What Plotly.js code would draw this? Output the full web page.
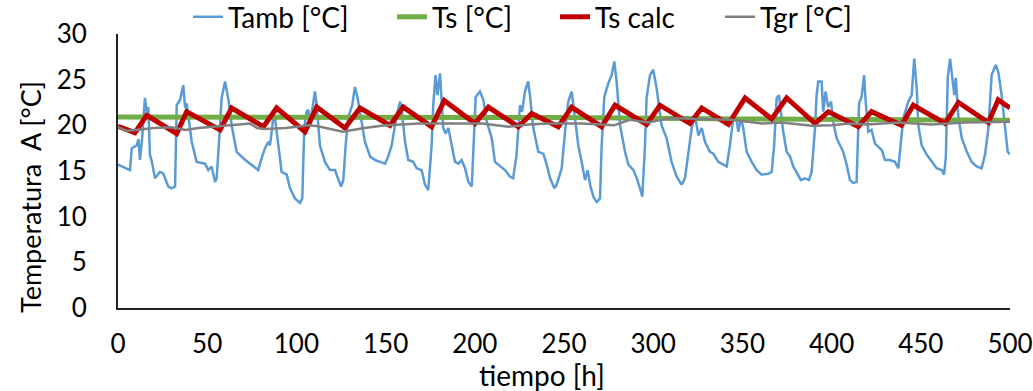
<!DOCTYPE html>
<html>
<head>
<meta charset="utf-8">
<script src="https://cdn.plot.ly/plotly-3.0.1.min.js"></script>
<style>html,body{margin:0;padding:0;background:#fff;}#chart{width:1033px;height:391px;}</style>
</head>
<body>
<div id="chart"></div>
<script>
// ---- data ----
const seriesNames = ["Tamb [°C]", "Ts [°C]", "Ts calc", "Tgr [°C]"];

const tambHours = [0,3,6.7,7.7,9,10.5,11.5,12.3,13.5,15.1,16.1,17,17.9,19,20.7,23.5,25.4,28.2,30.1,32,32.9,34.8,36.6,37.6,38.5,41.3,44.1,48.8,50.6,52.5,54.4,55.3,57.2,58.1,60,61.9,63.7,66.5,70.2,74,78.6,80.5,82.4,84.3,85.2,87.1,88,89.9,91.7,94.6,96.4,99.2,102,103.3,104.4,105.7,106.7,107.6,109.5,110.4,111.3,113.2,116,118.8,121.6,123.5,125,126.3,127.6,129.1,131.3,132.8,134.3,135.6,138.4,141.3,144.1,146.9,149.7,151.5,153.4,156.2,158.1,159,160.9,162.7,165.5,167.4,170.2,172.1,173.9,175.8,176.7,178,179.1,180.5,181.4,182.3,183.6,185.2,187.1,188.9,190.8,192.6,194.5,196.4,198.3,199.7,200.5,202.9,204.8,206.7,209.5,211.3,214.1,216.9,219.7,221.5,223.4,225.3,226.5,228.1,229.9,230.9,232.8,235.6,238.4,240.3,242.2,244.6,245.9,248.7,250.6,252.4,254.3,256.2,258,259.9,261.8,263.3,264.6,266.4,268.3,270.2,271.1,272.6,274.8,276.7,278.2,279.5,281.4,284.2,286.1,288.9,290.8,292.6,293.9,295.4,296.3,298.2,300,301.9,304.7,307.5,310.3,313.1,315.9,317.8,319.7,321.6,323.4,325.3,327.2,329,331.8,333.7,336.5,339.3,341.2,343,344.9,346.8,347.7,349.2,350.5,352.4,355.2,358,360.8,364.5,366.4,367.8,369.2,370.5,371.6,372.9,374.8,376.7,378.5,380.4,382.8,385.1,387.3,388.8,390.7,391.6,392.5,394.4,395.3,396.6,398.1,399.7,400.9,402.8,404.7,406.5,408.4,410.3,412.1,414,415.4,416.8,418.2,419.1,420.6,422.4,424.3,426.2,428.1,429.9,432.7,435.5,437.4,438.3,440.2,443,444.9,446.3,447.7,448.6,450.5,453.3,456.1,458.9,461.7,463,464,465.1,466.4,467.7,468.8,469.6,471.1,473,475.8,478.5,481.3,484.1,486,487.9,489.7,492,493.4,495.3,497.2,498.7,500];
const tambValues = [15.7,15.4,15.1,17.5,17.6,17.8,18.5,16.2,18.5,23.0,21.5,22.0,16.8,16.0,14.2,14.9,14.7,13.3,13.1,13.3,22.2,22.8,24.4,21.9,22.4,18.2,16.0,15.8,15.1,15.5,13.8,14.2,20.0,23.0,24.8,22.8,20.0,17.1,16.4,15.8,15.1,16.4,17.5,18.2,17.8,20.9,20.8,17.8,14.9,14.6,13.1,12.0,11.5,12.0,19.7,21.5,21.7,20.0,22.8,23.7,22.4,17.8,16.0,15.1,15.1,14.2,13.3,14.0,17.8,20.9,22.2,24.2,23.0,21.5,18.2,16.6,16.2,16.0,15.8,16.6,17.8,21.1,22.6,21.7,18.2,16.2,16.0,15.3,15.1,13.5,12.9,17.8,22.2,25.5,23.3,25.7,22.6,19.7,19.1,19.7,17.8,16.0,15.8,16.2,15.3,13.8,13.3,18.9,23.1,23.7,22.8,20.4,18.6,16.0,15.5,15.1,14.4,14.2,16.8,22.2,21.5,23.7,24.8,23.3,19.7,17.1,16.9,15.7,14.2,13.1,13.5,15.3,19.3,22.6,23.7,20.4,17.8,16.0,14.0,15.1,13.5,12.2,11.6,12.0,17.8,23.1,24.6,25.5,27.0,24.8,20.0,17.1,15.7,15.1,14.2,13.1,12.2,17.8,23.0,25.5,26.1,24.1,20.0,18.6,16.0,14.4,13.5,14.2,16.8,19.7,21.1,18.9,19.7,18.2,17.1,16.9,16.0,15.7,15.5,17.8,20.8,20.6,19.3,20.8,19.7,17.1,16.0,15.1,14.6,14.7,14.9,17.8,23.0,23.3,21.5,19.3,17.1,16.6,15.5,14.9,14.0,14.2,14.0,14.9,19.7,23.3,24.8,24.8,21.5,23.7,22.0,22.6,20.4,18.6,17.8,17.1,15.7,14.0,13.7,13.8,22.4,23.1,25.5,22.6,19.3,19.5,18.0,17.7,17.3,16.2,16.2,16.0,15.3,17.1,20.8,22.6,23.3,27.3,24.1,20.0,17.8,16.8,16.0,15.3,15.1,14.6,16.4,25.2,27.3,24.8,23.3,25.2,20.8,18.6,17.1,16.0,15.5,15.3,16.8,19.7,25.5,26.6,25.9,23.3,19.7,17.1,16.8];

const tsHours = [0,150,250,350,450,500];
const tsValues = [20.9,20.9,20.85,20.7,20.6,20.55];

const tsCalcHours = [0,9.5,16.1,32.9,38.5,57.2,63.7,81.5,88.9,104.8,111.4,127.2,135.7,152.5,159.9,175.8,182.9,200.1,207.6,224.4,231.9,246.8,254.3,271.1,278.6,296.3,303.8,320.6,327.2,342.1,351.5,366.4,374.8,390.7,398.2,415,422.4,439.2,445.8,463.6,471.1,487.9,493.4,500];
const tsCalcValues = [19.9,19.2,21.1,19.1,21.5,19.5,21.9,19.85,21.9,19.3,22.0,19.7,21.9,20.0,22.0,19.85,22.7,20.2,22.0,19.85,21.3,19.85,22.0,19.85,22.2,20.1,22.2,20.2,21.9,20.1,23.0,20.7,23.0,20.2,21.5,19.85,21.5,20.0,22.2,20.2,22.5,20.3,22.8,21.9];

const tgrHours = [0,5,10,20,30,38,45,54,65,74,78,82,94,107,112,120,126,138,150,169,185,204,219,230,241,260,278,287,297,310,325,337,344,361,372,389,400,410,420,437,456,475,500];
const tgrValues = [19.8,19.4,19.5,19.7,19.8,19.5,19.7,19.85,20.0,20.2,19.7,19.6,19.7,20.0,19.9,19.6,19.3,19.7,20.0,20.2,20.2,20.2,19.85,20.1,20.2,20.2,20.0,20.6,20.3,20.8,20.7,20.6,20.6,20.2,20.3,19.95,20.0,20.2,20.1,20.3,20.1,20.3,20.4];

const xTickVals = [0,50,100,150,200,250,300,350,400,450,500];
const yTickVals = [0,5,10,15,20,25,30];
const xTitle = "tiempo [h]";
const yTitle = "Temperatura\u00a0 A [°C]";

// ---- chart ----
const FONT = "Lato, Carlito, 'Open Sans', sans-serif";
const legendIds = ["legend", "legend2", "legend3", "legend4"];
const traces = [
  {x: tambHours, y: tambValues, name: seriesNames[0], mode: "lines", line: {color: "#5B9BD5", width: 2.5}, legend: legendIds[0]},
  {x: tsHours, y: tsValues, name: seriesNames[1], mode: "lines", line: {color: "#70AD47", width: 5}, legend: legendIds[1]},
  {x: tsCalcHours, y: tsCalcValues, name: seriesNames[2], mode: "lines", line: {color: "#C00000", width: 5}, legend: legendIds[2]},
  {x: tgrHours, y: tgrValues, name: seriesNames[3], mode: "lines", line: {color: "#808080", width: 2.5}, legend: legendIds[3]}
];

function legendAt(xPaper) {
  return {orientation: "h", x: xPaper, xanchor: "left", xref: "paper", yref: "paper", y: 1.153, yanchor: "top",
          font: {family: FONT, size: 28, color: "#000"}, bgcolor: "rgba(0,0,0,0)", borderwidth: 0};
}

const layout = {
  width: 1033, height: 391,
  margin: {l: 118, r: 23, t: 34, b: 83, autoexpand: false},
  paper_bgcolor: "#fff", plot_bgcolor: "#fff",
  font: {family: FONT, size: 26, color: "#000"},
  showlegend: true,
  legend: legendAt(0.0785),
  legend2: legendAt(0.3072),
  legend3: legendAt(0.4899),
  legend4: legendAt(0.6749),
  xaxis: {range: [0, 500], tickvals: xTickVals, showgrid: false, zeroline: false,
          showline: true, linecolor: "#222", linewidth: 2, ticks: "", ticklabelstandoff: 12,
          tickfont: {family: FONT, size: 26, color: "#000"}, fixedrange: true},
  yaxis: {range: [0, 30], tickvals: yTickVals, showgrid: false, zeroline: false,
          showline: true, linecolor: "#222", linewidth: 2, ticks: "", ticklabelstandoff: 24,
          tickfont: {family: FONT, size: 26, color: "#000"}, fixedrange: true},
  annotations: [
    {text: xTitle, xref: "paper", yref: "paper", x: 0.475, y: -0.2445, xanchor: "center", yanchor: "middle",
     showarrow: false, font: {family: FONT, size: 28, color: "#000"}},
    {text: yTitle, xref: "paper", yref: "paper", x: -0.0987, y: 0.405, xanchor: "center", yanchor: "middle",
     textangle: -90, showarrow: false, font: {family: FONT, size: 27, color: "#000"}}
  ]
};

Plotly.newPlot("chart", traces, layout, {staticPlot: true, displayModeBar: false});
</script>
</body>
</html>
